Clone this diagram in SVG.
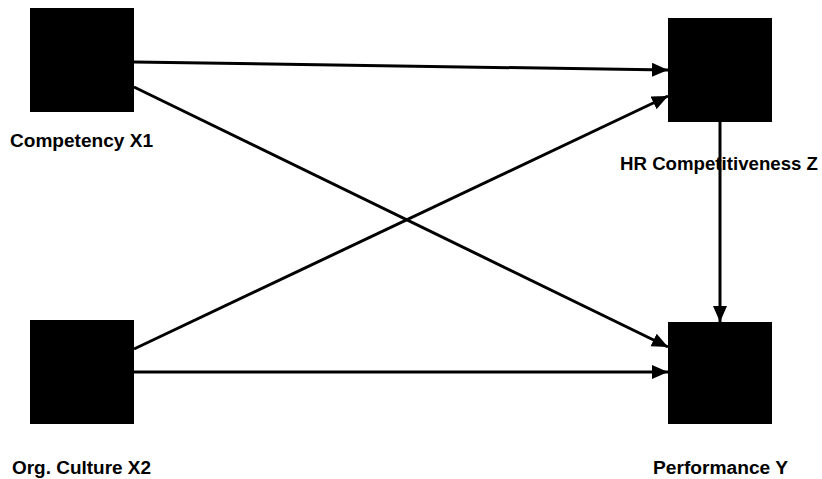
<svg xmlns="http://www.w3.org/2000/svg" width="822" height="479" viewBox="0 0 822 479">
<style>
.box{fill:#000}
.lbl{font-family:"Liberation Sans",Arial,sans-serif;font-weight:bold;font-size:18px;fill:#000}
.edge{stroke:#000;stroke-width:3;fill:none;marker-end:url(#ah)}
</style>
<defs>
<marker id="ah" markerUnits="userSpaceOnUse" markerWidth="18" markerHeight="16" refX="16" refY="7" orient="auto" viewBox="0 0 18 16">
<path d="M0,0 L16,7 L0,14 Z" fill="#000"/>
</marker>
</defs>
<rect width="822" height="479" fill="#fff"/>
<g id="connectors">
<line class="edge" x1="134" y1="62" x2="668" y2="70"/>
<line class="edge" x1="134" y1="87" x2="668" y2="347"/>
<line class="edge" x1="134" y1="349" x2="668" y2="96"/>
<line class="edge" x1="134" y1="372" x2="668" y2="372"/>
<line class="edge" x1="720" y1="122" x2="720" y2="322"/>
</g>
<g id="x1">
<rect class="box" x="30" y="8" width="104" height="104"/>
<text class="lbl" x="10" y="147" textLength="143" lengthAdjust="spacingAndGlyphs">Competency X1</text>
</g>
<g id="z">
<rect class="box" x="668" y="18" width="104" height="104"/>
<text class="lbl" x="620" y="170" textLength="198" lengthAdjust="spacingAndGlyphs">HR Competitiveness Z</text>
</g>
<g id="x2">
<rect class="box" x="30" y="320" width="104" height="104"/>
<text class="lbl" x="12" y="474" textLength="139" lengthAdjust="spacingAndGlyphs">Org. Culture X2</text>
</g>
<g id="y">
<rect class="box" x="668" y="322" width="104" height="102"/>
<text class="lbl" x="653" y="474" textLength="135" lengthAdjust="spacingAndGlyphs">Performance Y</text>
</g>
</svg>
